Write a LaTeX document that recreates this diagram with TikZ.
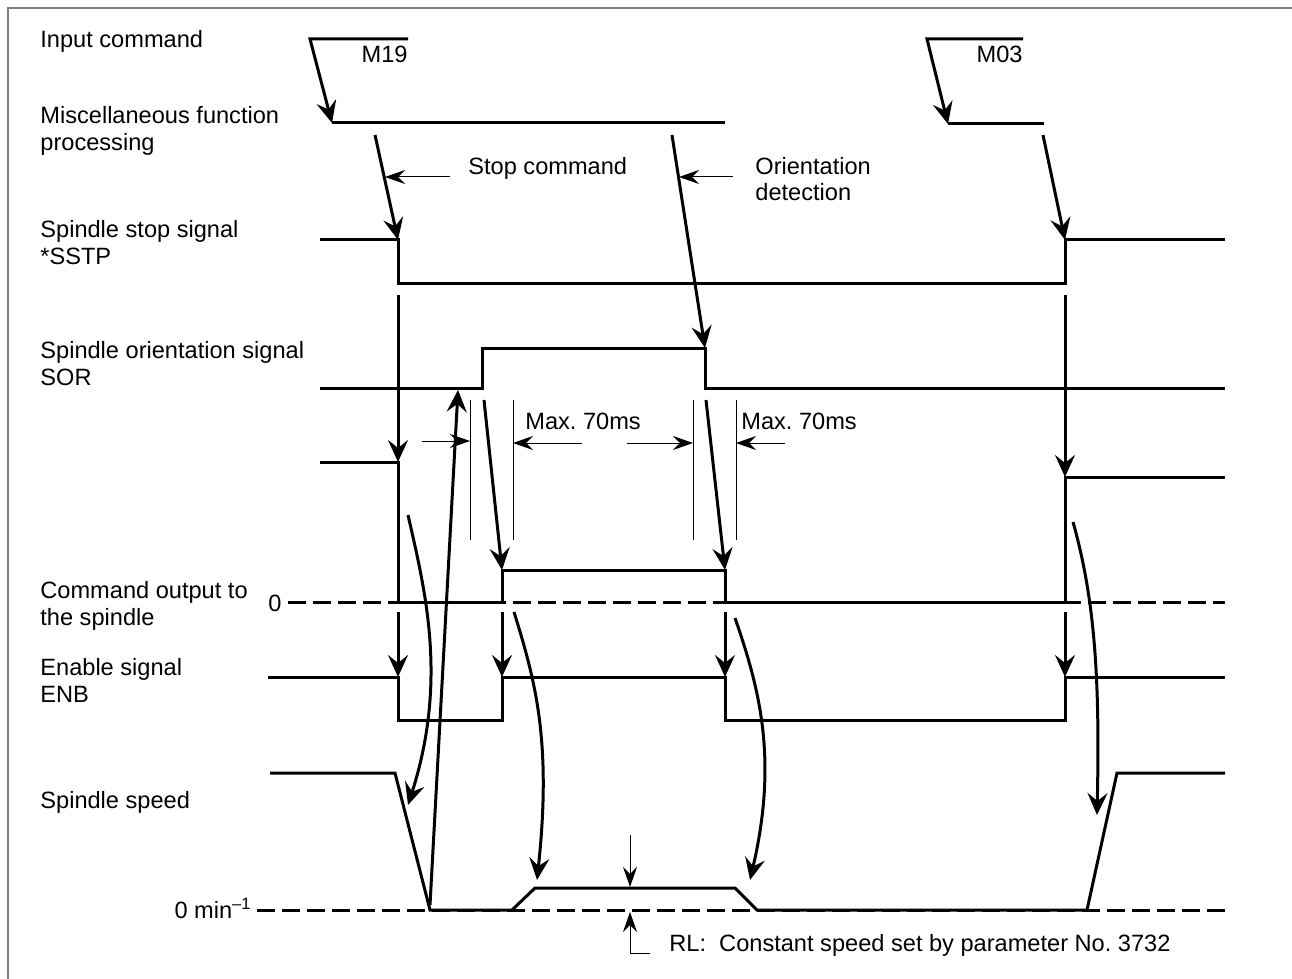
\documentclass[tikz,border=0pt]{standalone}
\usepackage{fontspec}
\setmainfont{Liberation Sans}
\usetikzlibrary{arrows.meta}
\frenchspacing
\begin{document}
\begin{tikzpicture}[x=0.5pt,y=-0.5pt,
  sig/.style={line width=1.5pt, line join=miter},
  thinline/.style={line width=0.5pt},
  arr/.style={line width=1.5pt, -{Stealth[length=11pt,width=10pt,inset=4pt]}},
  tarr/.style={line width=0.5pt, -{Stealth[length=10pt,width=7pt,inset=3.5pt]}},
  dsh/.style={line width=1.5pt, dash pattern=on 9pt off 3.5pt},
  lbl/.style={anchor=base west, inner sep=0pt, font=\fontsize{11.8}{14}\selectfont},
  rlbl/.style={anchor=base east, inner sep=0pt, font=\fontsize{11.8}{14}\selectfont}]
\useasboundingbox (0,0) rectangle (1292,979);
% frame
\draw[color=black!50, line width=1pt] (8,979) -- (8,8) -- (1292,8);

% labels
\node[lbl] (lin) at (40,48) {Input command};
\node[lbl] (lmf1) at (40,124) {Miscellaneous function};
\node[lbl] (lmf2) at (40,151) {processing};
\node[lbl] (lss1) at (40,238) {Spindle stop signal};
\node[lbl] (lss2) at (40,264) {*SSTP};
\node[lbl] (lso1) at (40,358) {Spindle orientation signal};
\node[lbl] (lso2) at (40,385) {SOR};
\node[lbl] (lco1) at (40,598) {Command output to};
\node[lbl] (lco2) at (40,625) {the spindle};
\node[lbl] (lzero) at (268,611) {0};
\node[lbl] (len1) at (40,675) {Enable signal};
\node[lbl] (len2) at (40,702) {ENB};
\node[lbl] (lsp) at (40,808) {Spindle speed};
\node[rlbl] (lmin) at (252,918) {0 min\textsuperscript{–1}};
\node[rlbl] (m19) at (408,63) {M19};
\node[rlbl] (m03) at (1023,63) {M03};
\node[lbl] (lstop) at (468,175) {Stop command};
\node[lbl] (lor1) at (755,175) {Orientation};
\node[lbl] (lor2) at (755,201) {detection};
\node[lbl] (lmax1) at (525,429) {Max. 70ms};
\node[lbl] (lmax2) at (741,429) {Max. 70ms};
\node[lbl] (lrl) at (669,951) {RL:\ \ Constant speed set by parameter No. 3732};

% input command
\draw[arr] (408,39) -- (310,39) -- (332,123);
\draw[sig] (332,123) -- (725,123);
\draw[arr] (1023,39) -- (927,39) -- (948,124);
\draw[sig] (948,124) -- (1044,124);

% stop command / orientation detection
\draw[arr] (375,135) -- (398,240);
\draw[tarr] (450,177) -- (385,177);
\draw[arr] (672,135) -- (705,348);
\draw[tarr] (733,177) -- (679,177);
\draw[arr] (1043,135) -- (1065,240);

% SSTP
\draw[sig] (320,240) -- (398,240) -- (398,283) -- (1065,283) -- (1065,240) -- (1225,240);
% SOR
\draw[sig] (320,388) -- (482,388) -- (482,348) -- (705,348) -- (705,388) -- (1225,388);

\draw[arr] (398,295) -- (398,462);
\draw[arr] (1065,295) -- (1065,477);

% command output
\draw[dsh] (288,602) -- (1225,602);
\draw[sig] (320,462) -- (398,462) -- (398,602) -- (502,602) -- (502,570) -- (725,570) -- (725,602) -- (1065,602) -- (1065,477) -- (1225,477);

% enable arrows
\draw[arr] (398,612) -- (398,677);
\draw[arr] (502,612) -- (502,677);
\draw[arr] (725,612) -- (725,677);
\draw[arr] (1065,612) -- (1065,677);
% ENB
\draw[sig] (268,677) -- (398,677) -- (398,720) -- (502,720) -- (502,677) -- (725,677) -- (725,720) -- (1065,720) -- (1065,677) -- (1225,677);

% spindle speed
\draw[dsh] (257,910) -- (1225,910);
\draw[sig] (270,773) -- (395,773) -- (430,910) -- (512,910) -- (535,888) -- (735,888) -- (757,910) -- (1087,910) -- (1117,773) -- (1225,773);

% max 70 ms
\draw[thinline] (470,400) -- (470,540);
\draw[thinline] (513,400) -- (513,540);
\draw[thinline] (693,400) -- (693,540);
\draw[thinline] (736,400) -- (736,540);
\draw[tarr] (422,441) -- (470,441);
\draw[tarr] (582,443) -- (513,443);
\draw[tarr] (627,443) -- (693,443);
\draw[tarr] (785,443) -- (736,443);

% SOR related arrows
\draw[arr] (484,400) -- (502,570);
\draw[arr] (706,400) -- (725,570);
\draw[arr] (430,905) -- (458,390);

% curved arrows
\draw[arr] (408,515) .. controls (425,590) and (448,680) .. (408,805);
\draw[arr] (514,612) .. controls (535,680) and (552,740) .. (537,880);
\draw[arr] (735,618) .. controls (760,690) and (778,760) .. (750,880);
\draw[arr] (1073,522) .. controls (1095,600) and (1100,680) .. (1097,815);

% RL
\draw[tarr] (630,835) -- (630,887);
\draw[thinline, {Stealth[length=10pt,width=7pt,inset=3.5pt]}-] (630,912) -- (630,953) -- (650,953);
\end{tikzpicture}
\end{document}
